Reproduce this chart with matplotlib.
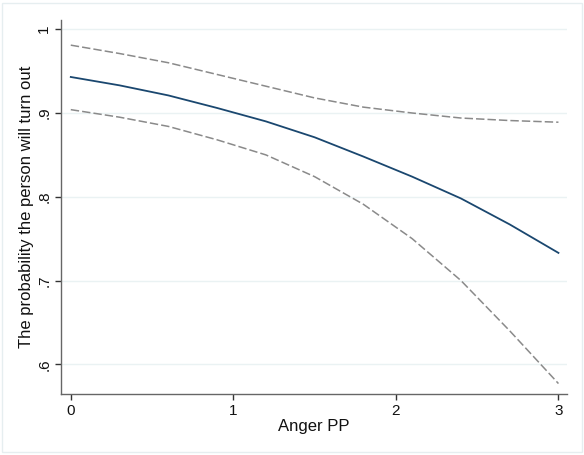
import matplotlib
matplotlib.use("Agg")
import matplotlib.pyplot as plt
from matplotlib.patches import Rectangle

# Predicted probability and 95% CI by Anger PP
anger = [0.0, 0.3, 0.6, 0.9, 1.2, 1.5, 1.8, 2.1, 2.4, 2.7, 3.0]
prob = [0.943, 0.933, 0.921, 0.906, 0.890, 0.871, 0.848, 0.824, 0.798, 0.767, 0.733]
upper = [0.981, 0.971, 0.960, 0.946, 0.932, 0.918, 0.907, 0.900, 0.894, 0.891, 0.889]
lower = [0.904, 0.895, 0.884, 0.868, 0.850, 0.824, 0.791, 0.750, 0.700, 0.640, 0.577]

xticks = [0, 1, 2, 3]
yticks = [0.6, 0.7, 0.8, 0.9, 1.0]
ylabels = ['.6', '.7', '.8', '.9', '1']

plt.rcParams['font.family'] = ['Liberation Sans', 'DejaVu Sans']

fig = plt.figure(figsize=(5.84, 4.55), dpi=100)
fig.patches.append(Rectangle((0.004, 0.006), 0.992, 0.988, transform=fig.transFigure,
                             fill=False, edgecolor='#e6eef0', linewidth=1.0))
ax = fig.add_axes([0.1045, 0.134, 0.8665, 0.822])

ax.plot(anger, upper, color='#8a8a8a', linestyle=(0, (5.5, 2)), linewidth=1.1)
ax.plot(anger, lower, color='#8a8a8a', linestyle=(0, (5.5, 2)), linewidth=1.1)
ax.plot(anger, prob, color='#1a476f', linewidth=1.3)

ax.set_xlim(-0.06, 3.053)
ax.set_ylim(0.5645, 1.011)
ax.set_xticks(xticks)
ax.set_yticks(yticks)
ax.set_yticklabels(ylabels, rotation=90, va='center')
ax.grid(axis='y', color='#eaf2f3', linewidth=1.0)
ax.set_axisbelow(True)

for s in ['top', 'right']:
    ax.spines[s].set_visible(False)
for s in ['left', 'bottom']:
    ax.spines[s].set_color('#666666')
    ax.spines[s].set_linewidth(1.0)
ax.tick_params(direction='out', length=4.5, width=1, color='#333333',
               labelsize=11, labelcolor='#111111', pad=2.5)

ax.set_xlabel('Anger PP', fontsize=12, color='#111111', labelpad=1)
ax.set_ylabel('The probability the person will turn out', fontsize=12,
              color='#111111')
ax.yaxis.set_label_coords(-0.053, 0.5)

fig.savefig('out.png', dpi=100, facecolor='white')
